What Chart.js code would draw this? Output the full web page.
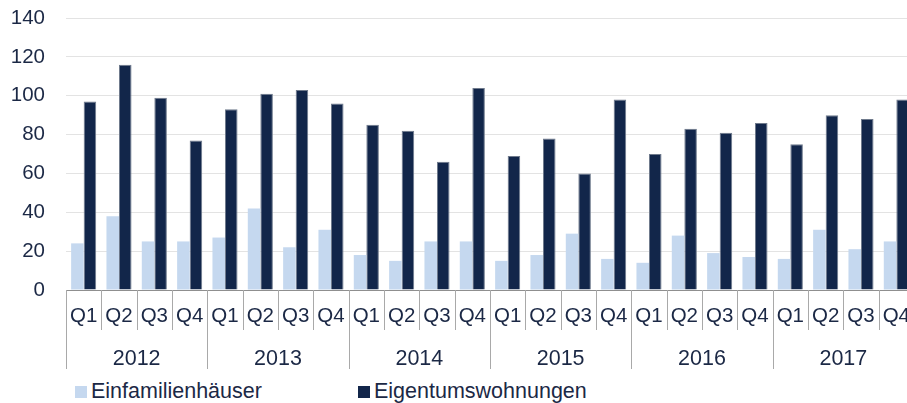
<!DOCTYPE html>
<html>
<head>
<meta charset="utf-8">
<script src="https://cdn.jsdelivr.net/npm/chart.js@4.4.1/dist/chart.umd.min.js"></script>
<style>
  html, body { margin: 0; padding: 0; background: #fff; overflow: hidden; }
  #wrap { position: relative; width: 914px; height: 403px; }
  #box { position: absolute; left: 0; top: 0; width: 914px; height: 372px; }
  .legend-item {
    position: absolute; top: 379px; line-height: 24px; white-space: nowrap;
    font: 21.5px "Liberation Sans", Arial, sans-serif; color: #1b2845;
  }
  .legend-item i { display: inline-block; width: 12px; height: 12px; margin-right: 4px; vertical-align: baseline; }
</style>
</head>
<body>
<div id="wrap">
  <div id="box"><canvas id="chart"></canvas></div>
</div>
<script>
// quarterly counts 2012-2017
const years = ['2012', '2013', '2014', '2015', '2016', '2017'];
const quarters = ['Q1', 'Q2', 'Q3', 'Q4'];
const yTicks = [0, 20, 40, 60, 80, 100, 120, 140];

const seriesNames = ['Einfamilienhäuser', 'Eigentumswohnungen'];
const einfamilienhaeuser = [24, 38, 25, 25, 27, 42, 22, 31, 18, 15, 25, 25, 15, 18, 29, 16, 14, 28, 19, 17, 16, 31, 21, 25];
const eigentumswohnungen = [97, 116, 99, 77, 93, 101, 103, 96, 85, 82, 66, 104, 69, 78, 60, 98, 70, 83, 81, 86, 75, 90, 88, 98];

const LIGHT = '#c5d8ef';
const DARK = '#12264a';
const TEXT = '#1b2845';
const FONT = '"Liberation Sans", Arial, sans-serif';

const labels = years.flatMap(() => quarters);

// vertical separators between quarters (short) and years (long)
const separators = {
  id: 'separators',
  afterDraw(chart) {
    const xs = chart.scales.x, x2 = chart.scales.x2, ctx = chart.ctx;
    const step = xs.getPixelForValue(1) - xs.getPixelForValue(0);
    ctx.save();
    ctx.strokeStyle = '#a9a9a9';
    ctx.lineWidth = 1;
    for (let i = 0; i <= labels.length; i++) {
      const px = Math.round(xs.getPixelForValue(0) + (i - 0.5) * step) + 0.5;
      const bottom = i % quarters.length === 0 ? x2.bottom : xs.bottom;
      ctx.beginPath();
      ctx.moveTo(px, xs.top);
      ctx.lineTo(px, bottom);
      ctx.stroke();
    }
    ctx.restore();
  }
};

new Chart(document.getElementById('chart'), {
  type: 'bar',
  data: {
    labels: labels,
    datasets: [
      {
        label: seriesNames[0],
        data: einfamilienhaeuser,
        backgroundColor: LIGHT,
        categoryPercentage: 0.71,
        barPercentage: 1.0,
      },
      {
        label: seriesNames[1],
        data: eigentumswohnungen,
        backgroundColor: DARK,
        borderColor: '#6f7a8c',
        borderWidth: { top: 1, left: 1, right: 1, bottom: 0 },
        categoryPercentage: 0.71,
        barPercentage: 1.0,
      },
    ],
  },
  options: {
    responsive: true,
    maintainAspectRatio: false,
    animation: false,
    layout: { padding: { left: 12, top: 0, right: 0, bottom: 3 } },
    plugins: { legend: { display: false }, tooltip: { enabled: false } },
    scales: {
      y: {
        min: yTicks[0],
        max: yTicks[yTicks.length - 1],
        afterBuildTicks: (s) => { s.ticks = yTicks.map(v => ({ value: v })); },
        afterFit: (s) => { s.width = 54; s.paddingTop = 18; s.paddingBottom = 0; },
        grid: { color: '#e3e3e3', drawTicks: false },
        border: { display: false },
        ticks: { padding: 21, color: TEXT, font: { family: FONT, size: 20.5 } },
      },
      x: {
        weight: 1,
        afterFit: (s) => { s.height = 40; s.paddingLeft = 0; s.paddingRight = 0; },
        grid: { display: true, drawOnChartArea: false, drawTicks: false },
        border: { display: true, color: '#8f8f8f', width: 1 },
        ticks: { padding: 14, color: TEXT, autoSkip: false, maxRotation: 0, font: { family: FONT, size: 20.5 } },
      },
      x2: {
        type: 'category',
        position: 'bottom',
        weight: 2,
        labels: years,
        offset: true,
        afterFit: (s) => { s.height = 39; s.paddingLeft = 0; s.paddingRight = 0; },
        grid: { display: false },
        border: { display: false },
        ticks: { padding: 8, color: TEXT, autoSkip: false, maxRotation: 0, font: { family: FONT, size: 21.5 } },
      },
    },
  },
  plugins: [separators],
});

// legend drawn as html text below the canvas
const legendLeft = [75, 358];
const legendColors = [LIGHT, DARK];
seriesNames.forEach((name, i) => {
  const item = document.createElement('div');
  item.className = 'legend-item';
  item.style.left = legendLeft[i] + 'px';
  const sw = document.createElement('i');
  sw.style.background = legendColors[i];
  item.appendChild(sw);
  item.appendChild(document.createTextNode(name));
  document.getElementById('wrap').appendChild(item);
});
</script>
</body>
</html>
